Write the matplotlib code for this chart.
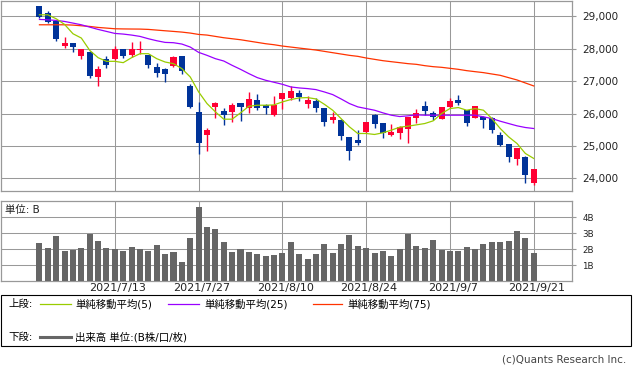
import numpy as np
import matplotlib
import matplotlib.pyplot as plt
from matplotlib.patches import Rectangle
from matplotlib.lines import Line2D
import matplotlib.transforms as mtransforms
from matplotlib.ticker import FuncFormatter

matplotlib.use('Agg')
plt.rcParams['font.family'] = ['DejaVu Sans', 'Noto Sans CJK JP']

# 日足データ (60本)
open_ = [29308, 29113, 28856, 28076, 28178, 27778, 27901, 27131, 27675, 27675,
         27983, 27798, 27952, 27798, 27429, 27367, 27470, 27768, 26844, 26042,
         25334, 26197, 26073, 26053, 26320, 26176, 26412, 26279, 25950, 26443,
         26474, 26628, 26289, 26381, 26166, 25806, 25806, 25272, 25180, 25426,
         25950, 25704, 25334, 25406, 25529, 25868, 26227, 26032, 25837, 26197,
         26422, 26104, 25868, 25909, 25878, 25334, 25057, 24605, 24666, 23865]
high = [29320, 29154, 28870, 28363, 28190, 27995, 27932, 27460, 27768, 28076,
        27995, 28209, 28230, 27810, 27552, 27408, 27768, 27780, 26905, 26361,
        25560, 26361, 26176, 26320, 26330, 26659, 26597, 26290, 26535, 26640,
        26844, 26720, 26535, 26474, 26180, 26042, 25820, 25285, 25488, 25745,
        26001, 25715, 25673, 25611, 25900, 26145, 26392, 26073, 26210, 26494,
        26566, 26115, 26240, 25920, 25890, 25426, 25070, 24945, 24680, 24300]
low = [28950, 28800, 28240, 28024, 27901, 27675, 27100, 26854, 27408, 27660,
       27716, 27747, 27850, 27408, 27131, 26977, 27439, 27213, 26176, 24749,
       24852, 25868, 25642, 25745, 25775, 26012, 26104, 25981, 25940, 26135,
       26433, 26392, 26186, 26042, 25611, 25714, 25180, 24564, 25026, 25385,
       25560, 25252, 25303, 25221, 25087, 25714, 25971, 25796, 25820, 26180,
       26279, 25621, 25850, 25560, 25385, 25010, 24512, 24420, 23865, 23794]
close = [28979, 28825, 28291, 28178, 28055, 27983, 27152, 27367, 27501, 27983,
         27778, 28004, 28004, 27501, 27254, 27223, 27737, 27316, 26197, 25098,
         25488, 26320, 25950, 26258, 26197, 26443, 26186, 26176, 26268, 26628,
         26710, 26505, 26422, 26176, 25745, 25899, 25303, 24851, 25087, 25734,
         25673, 25406, 25436, 25580, 25888, 26032, 26073, 25899, 26197, 26392,
         26330, 25714, 26227, 25806, 25498, 25026, 24666, 24933, 24112, 24286]

# 移動平均 (チャートから読み取り)
ma5 = [29051, 29051, 28928, 28754, 28466, 28333, 27953, 27727, 27614, 27614,
       27573, 27727, 27850, 27850, 27696, 27593, 27542, 27388, 27131, 26669,
       26310, 26053, 25827, 25827, 26022, 26227, 26258, 26258, 26268, 26361,
       26433, 26484, 26494, 26453, 26289, 26104, 25847, 25591, 25385, 25385,
       25355, 25406, 25488, 25580, 25611, 25652, 25693, 25776, 26001, 26155,
       26186, 26104, 26155, 26104, 25847, 25540, 25283, 25077, 24769, 24615]
ma25 = [28908, 28897, 28877, 28846, 28795, 28743, 28671, 28600, 28538, 28476,
        28456, 28425, 28384, 28312, 28250, 28199, 28189, 28148, 28055, 27891,
        27799, 27696, 27624, 27490, 27367, 27234, 27111, 27029, 26967, 26905,
        26823, 26792, 26772, 26741, 26669, 26587, 26453, 26310, 26207, 26155,
        26104, 26022, 25950, 25909, 25930, 25960, 25950, 25950, 25950, 25950,
        25950, 25950, 25950, 25899, 25847, 25765, 25693, 25622, 25570, 25539]
ma75 = [28743, 28743, 28743, 28743, 28733, 28712, 28692, 28661, 28641, 28620,
        28615, 28612, 28610, 28600, 28579, 28558, 28538, 28517, 28487, 28445,
        28425, 28384, 28343, 28312, 28281, 28240, 28199, 28158, 28127, 28086,
        28055, 28024, 27994, 27963, 27922, 27881, 27840, 27799, 27768, 27717,
        27675, 27634, 27603, 27573, 27542, 27521, 27480, 27449, 27429, 27398,
        27367, 27326, 27295, 27265, 27223, 27182, 27110, 27039, 26946, 26854]

# 出来高 (単位: B)
volume = [2.39, 2.10, 2.84, 1.89, 1.95, 2.10, 2.98, 2.52, 2.10, 2.02,
          1.89, 2.14, 2.02, 1.89, 2.27, 1.70, 1.83, 1.20, 2.71, 4.66,
          3.40, 3.28, 2.46, 1.83, 2.02, 1.83, 1.70, 1.58, 1.64, 1.76,
          2.46, 1.70, 1.39, 1.70, 2.33, 1.76, 2.33, 2.90, 2.21, 2.08,
          1.76, 1.89, 1.58, 2.02, 2.96, 2.21, 2.08, 2.58, 1.95, 1.89,
          1.89, 2.14, 2.02, 2.33, 2.46, 2.46, 2.52, 3.15, 2.71, 1.76]

tick_pos = [9, 19, 29, 39, 49, 59]
tick_labels = ['2021/7/13', '2021/7/27', '2021/8/10', '2021/8/24', '2021/9/7', '2021/9/21']
price_ticks = [24000, 25000, 26000, 27000, 28000, 29000]
vol_ticks = [1, 2, 3, 4]

W, H = 633, 372
grid_c = '#999999'
up_c = '#ff0033'
down_c = '#003399'


def fr(x0, y0, x1, y1):
    # ピクセル座標 -> figure座標
    return [x0 / W, 1 - y1 / H, (x1 - x0) / W, (y1 - y0) / H]


def style_axes(a):
    for sp in a.spines.values():
        sp.set_color(grid_c)
        sp.set_linewidth(0.9)
    a.grid(True, color=grid_c, linewidth=0.75)
    a.set_axisbelow(True)
    a.yaxis.tick_right()
    a.tick_params(axis='y', length=3, color=grid_c, pad=4.5, labelcolor='#222222')
    a.set_xticks(tick_pos)
    a.set_xlim(-4.65, 63.57)


fig = plt.figure(figsize=(W / 100, H / 100), dpi=100)
ax = fig.add_axes(fr(0.5, 0.5, 572, 190.7))
axv = fig.add_axes(fr(0.5, 201, 572, 281.3))

x = np.arange(len(close))
o = np.array(open_)
c = np.array(close)
up = c >= o
colors = np.where(up, up_c, down_c)

# 上段: ローソク足
ax.vlines(x, low, high, colors=colors, linewidth=1.0, zorder=2)
body_h = np.maximum(np.abs(c - o), 15)
ax.bar(x, body_h, bottom=np.minimum(o, c), width=0.72, color=colors, linewidth=0, zorder=3)
ax.plot(x, ma75, color='#ff3300', linewidth=0.9, zorder=4)
ax.plot(x, ma25, color='#9900ff', linewidth=0.9, zorder=4)
ax.plot(x, ma5, color='#99cc00', linewidth=0.9, zorder=4)

style_axes(ax)
ax.set_ylim(23618, 29493)
ax.set_yticks(price_ticks)
ax.yaxis.set_major_formatter(FuncFormatter(lambda v, p: f'{v:,.0f}'))
ax.tick_params(axis='y', labelsize=7.5)
ax.tick_params(axis='x', length=0, labelbottom=False)

# 下段: 出来高
axv.bar(x, volume, width=0.72, color='#666666', linewidth=0, zorder=3)
style_axes(axv)
axv.set_ylim(0, 5.02)
axv.set_yticks(vol_ticks)
axv.set_yticklabels([f'{v}B' for v in vol_ticks])
axv.tick_params(axis='y', labelsize=6.3)
axv.set_xticklabels(tick_labels)
axv.tick_params(axis='x', length=0, pad=1.5, labelsize=8, labelcolor='#222222')
offset = mtransforms.ScaledTranslation(3 / 100, 0, fig.dpi_scale_trans)
for lab in axv.get_xticklabels():
    lab.set_transform(lab.get_transform() + offset)

fig.text(5 / W, 1 - 210 / H, '単位: B', fontsize=7.5, va='center', color='#222222')

# 凡例
fig.add_artist(Rectangle((0.5 / W, 1 - 346 / H), 630.5 / W, 51 / H, transform=fig.transFigure,
                         fill=False, edgecolor='black', linewidth=0.8))
row1 = 1 - 304 / H
row2 = 1 - 337 / H
fig.text(8 / W, row1, '上段:', fontsize=7.5, va='center')
fig.text(8 / W, row2, '下段:', fontsize=7.5, va='center')
legend_items = [(40, 71, 75, '#99cc00', '単純移動平均(5)'),
                (168, 199, 204, '#9900ff', '単純移動平均(25)'),
                (313, 342, 347, '#ff3300', '単純移動平均(75)')]
for x0, x1, tx, col, label in legend_items:
    fig.add_artist(Line2D([x0 / W, x1 / W], [row1, row1], transform=fig.transFigure,
                          color=col, linewidth=0.9))
    fig.text(tx / W, row1, label, fontsize=7.5, va='center')
fig.add_artist(Line2D([40 / W, 71 / W], [row2, row2], transform=fig.transFigure,
                      color='#666666', linewidth=2.2))
fig.text(75 / W, row2, '出来高 単位:(B株/口/枚)', fontsize=7.5, va='center')

fig.text(626 / W, 1 - 359 / H, '(c)Quants Research Inc.', fontsize=7.5, ha='right', va='center',
         color='#444444')

fig.savefig('out.png', dpi=100)
